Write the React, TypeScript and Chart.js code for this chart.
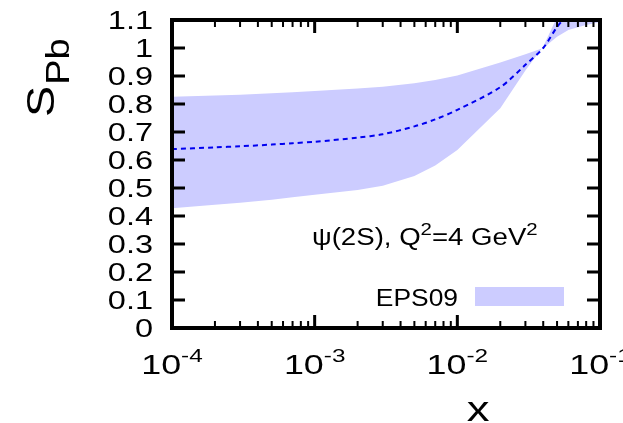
import React, { useEffect, useRef } from 'react';
import { Chart, registerables } from 'chart.js';

Chart.register(...registerables);

// ---- data ----
const xValues = [1e-4, 2e-4, 3e-4, 5e-4, 7e-4, 1e-3, 2e-3, 3e-3, 5e-3, 7e-3, 1e-2, 2e-2, 3e-2, 4e-2, 5e-2, 6e-2, 7e-2, 8e-2, 1e-1];
const bandEdgeA = [0.826, 0.830, 0.833, 0.838, 0.842, 0.846, 0.855, 0.862, 0.874, 0.886, 0.902, 0.948, 0.978, 1.0, 1.04, 1.064, 1.074, 1.082, 1.093];
const bandEdgeB = [0.428, 0.440, 0.447, 0.458, 0.467, 0.476, 0.493, 0.508, 0.543, 0.580, 0.636, 0.785, 0.920, 1.005, 1.11, 1.16, 1.2, 1.22, 1.25];
const centralValues = [0.639, 0.645, 0.649, 0.655, 0.660, 0.665, 0.680, 0.692, 0.720, 0.745, 0.779, 0.860, 0.940, 1.0, 1.075, 1.12, 1.15, 1.17, 1.2];

const yTickValues = [0, 0.1, 0.2, 0.3, 0.4, 0.5, 0.6, 0.7, 0.8, 0.9, 1.0, 1.1];
const yTickLabels = ['0', '0.1', '0.2', '0.3', '0.4', '0.5', '0.6', '0.7', '0.8', '0.9', '1', '1.1'];
const xMajorTicks = [1e-4, 1e-3, 1e-2, 1e-1];
const xTickExponents = ['-4', '-3', '-2', '-1'];
const xMinorMultipliers = [2, 3, 4, 5, 6, 7, 8, 9];

const legendLabel = 'EPS09';
const yAxisTitle = 'S';
const yAxisTitleSub = 'Pb';
const xAxisTitle = 'x';

const FONT = '"Liberation Sans", Arial, Helvetica, sans-serif';
const BAND_COLOR = '#ccccff';
const LINE_COLOR = '#0000f0';

type Seg = { t: string; size: number; dy?: number };

function drawSegs(ctx: CanvasRenderingContext2D, segs: Seg[], x: number, y: number, sx: number, align: 'left' | 'center' | 'right') {
  ctx.save();
  let total = 0;
  const widths: number[] = [];
  for (const s of segs) {
    ctx.font = `${s.size}px ${FONT}`;
    const w = ctx.measureText(s.t).width * sx;
    widths.push(w);
    total += w;
  }
  let cx = align === 'left' ? x : align === 'center' ? x - total / 2 : x - total;
  ctx.fillStyle = '#000';
  ctx.textAlign = 'left';
  ctx.textBaseline = 'alphabetic';
  segs.forEach((s, i) => {
    ctx.save();
    ctx.font = `${s.size}px ${FONT}`;
    ctx.translate(cx, y + (s.dy || 0));
    ctx.scale(sx, 1);
    ctx.fillText(s.t, 0, 0);
    ctx.restore();
    cx += widths[i];
  });
  ctx.restore();
}

const framePlugin = {
  id: 'gnuplotFrame',
  afterDraw(chart: any) {
    const ctx: CanvasRenderingContext2D = chart.ctx;
    const { left, right, top, bottom } = chart.chartArea;
    const xs = chart.scales.x;
    const ys = chart.scales.y;
    ctx.save();
    ctx.strokeStyle = '#000';
    ctx.lineCap = 'butt';

    // y ticks (both sides, inward)
    ctx.lineWidth = 3;
    yTickValues.forEach((v) => {
      const py = ys.getPixelForValue(v);
      ctx.beginPath();
      ctx.moveTo(left, py);
      ctx.lineTo(left + 13, py);
      ctx.moveTo(right, py);
      ctx.lineTo(right - 13, py);
      ctx.stroke();
    });
    // x major ticks
    xMajorTicks.forEach((v) => {
      const px = xs.getPixelForValue(v);
      ctx.beginPath();
      ctx.moveTo(px, bottom);
      ctx.lineTo(px, bottom - 13);
      ctx.moveTo(px, top);
      ctx.lineTo(px, top + 13);
      ctx.stroke();
    });
    // x minor ticks
    ctx.lineWidth = 2;
    xMajorTicks.slice(0, -1).forEach((d) => {
      xMinorMultipliers.forEach((m) => {
        const px = xs.getPixelForValue(d * m);
        ctx.beginPath();
        ctx.moveTo(px, bottom);
        ctx.lineTo(px, bottom - 7);
        ctx.moveTo(px, top);
        ctx.lineTo(px, top + 7);
        ctx.stroke();
      });
    });
    // border
    ctx.lineWidth = 4;
    ctx.strokeRect(left, top, right - left, bottom - top);
    ctx.restore();

    // y tick labels
    yTickValues.forEach((v, i) => {
      const py = ys.getPixelForValue(v);
      drawSegs(ctx, [{ t: yTickLabels[i], size: 25 }], 153, py + 9, 1.3, 'right');
    });
    // x tick labels 10^n
    xMajorTicks.forEach((v, i) => {
      const px = xs.getPixelForValue(v);
      drawSegs(ctx, [{ t: '10', size: 28 }, { t: xTickExponents[i], size: 19, dy: -12 }], px, 374, 1.28, 'center');
    });

    // annotation
    drawSegs(
      ctx,
      [
        { t: 'ψ(2S), Q', size: 23 },
        { t: '2', size: 17, dy: -10 },
        { t: '=4 GeV', size: 23 },
        { t: '2', size: 17, dy: -10 },
      ],
      312,
      245,
      1.2,
      'left'
    );

    // legend
    drawSegs(ctx, [{ t: legendLabel, size: 24 }], 458, 305.5, 1.1, 'right');
    ctx.save();
    ctx.fillStyle = BAND_COLOR;
    ctx.fillRect(475, 287, 89, 19);
    ctx.restore();

    // x axis title
    drawSegs(ctx, [{ t: xAxisTitle, size: 35 }], 478, 421, 1.3, 'center');

    // y axis title (rotated)
    ctx.save();
    ctx.translate(54, 117);
    ctx.rotate(-Math.PI / 2);
    ctx.fillStyle = '#000';
    ctx.font = `39px ${FONT}`;
    const sx = 1.2;
    ctx.save();
    ctx.scale(sx, 1);
    ctx.fillText(yAxisTitle, 0, 0);
    ctx.restore();
    const sw = ctx.measureText(yAxisTitle).width * sx;
    ctx.font = `33px ${FONT}`;
    ctx.save();
    ctx.translate(sw + 1, 15);
    ctx.scale(1.15, 1);
    ctx.fillText(yAxisTitleSub, 0, 0);
    ctx.restore();
    ctx.restore();
  },
};

export default function App() {
  const ref = useRef<HTMLCanvasElement>(null);
  useEffect(() => {
    if (!ref.current) return;
    const toXY = (arr: number[]) => arr.map((y, i) => ({ x: xValues[i], y }));
    const chart = new Chart(ref.current, {
      type: 'line',
      data: {
        datasets: [
          {
            label: 'edgeA',
            data: toXY(bandEdgeA),
            borderWidth: 0,
            borderColor: 'rgba(0,0,0,0)',
            pointRadius: 0,
            fill: false,
            tension: 0,
            clip: 0,
          },
          {
            label: legendLabel,
            data: toXY(bandEdgeB),
            borderWidth: 0,
            borderColor: 'rgba(0,0,0,0)',
            backgroundColor: BAND_COLOR,
            pointRadius: 0,
            fill: '-1',
            tension: 0,
            clip: 0,
          },
          {
            label: 'central',
            data: toXY(centralValues),
            borderColor: LINE_COLOR,
            borderWidth: 2,
            borderDash: [5, 4],
            pointRadius: 0,
            fill: false,
            tension: 0.3,
            clip: 0,
          },
        ],
      } as any,
      options: {
        responsive: false,
        animation: false,
        devicePixelRatio: 1,
        layout: { padding: { left: 172, right: 23, top: 20, bottom: 95 } },
        scales: {
          x: { type: 'logarithmic', min: 1e-4, max: 1e-1, display: false },
          y: { type: 'linear', min: 0, max: 1.1, display: false },
        },
        plugins: {
          legend: { display: false },
          tooltip: { enabled: false },
          filler: { drawTime: 'beforeDatasetsDraw' },
        } as any,
        events: [],
      },
      plugins: [framePlugin],
    });
    return () => chart.destroy();
  }, []);
  return (
    <div style={{ position: 'fixed', left: 0, top: 0, width: 623, height: 423, background: '#fff' }}>
      <canvas ref={ref} width={623} height={423} style={{ display: 'block' }} />
    </div>
  );
}
